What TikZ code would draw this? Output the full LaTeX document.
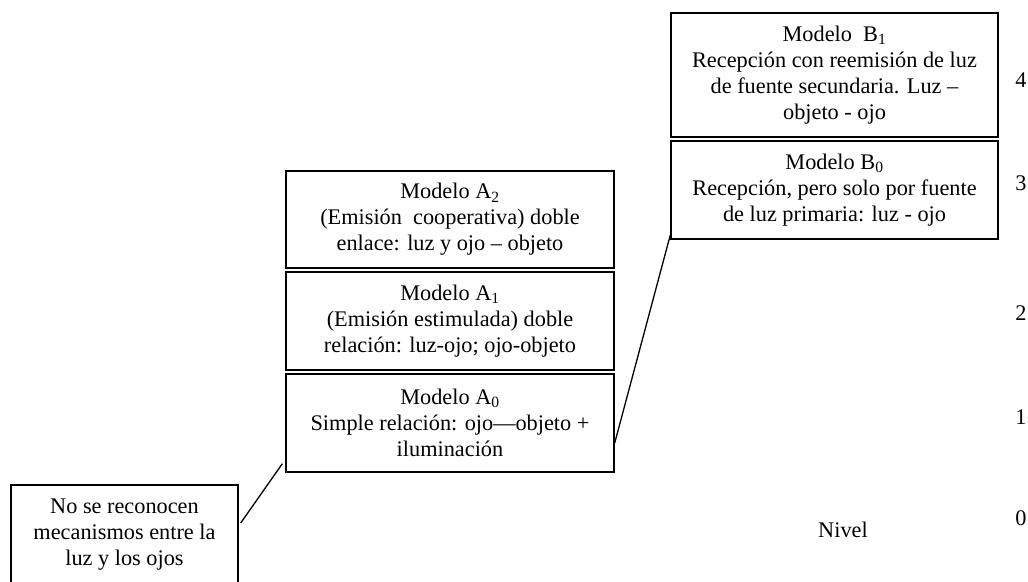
\documentclass[tikz,border=0pt]{standalone}
\usepackage{fontspec}
\setmainfont{Liberation Serif}
\begin{document}
\begin{tikzpicture}[x=1pt,y=-1pt,
  box/.style={draw, line width=1.4pt, align=center, inner sep=0pt, font=\fontsize{22.3}{26}\selectfont},
  lvl/.style={font=\fontsize{22.3}{26}\selectfont, inner sep=0pt},
  conn/.style={line width=1.3pt}]
\useasboundingbox (0,0) rectangle (1028,581);
\clip (0,0) rectangle (1028,581);
\node[box, minimum width=227pt, minimum height=100pt] (N) at (124.5,535)
  {No se reconocen\\mecanismos entre la\\luz y los ojos};
\node[box, minimum width=328pt, minimum height=98pt] (A0) at (450,423)
  {Modelo A\textsubscript{0}\\Simple relación: ojo—objeto +\\iluminación};
\node[box, minimum width=328pt, minimum height=98pt] (A1) at (450,321)
  {Modelo A\textsubscript{1}\\(Emisión estimulada) doble\\relación: luz-ojo; ojo-objeto};
\node[box, minimum width=328pt, minimum height=97pt] (A2) at (450,219.5)
  {Modelo A\textsubscript{2}\\(Emisión\ \ cooperativa) doble\\enlace: luz y ojo – objeto};
\node[box, minimum width=327pt, minimum height=98pt] (B0) at (834.5,190)
  {Modelo B\textsubscript{0}\\Recepción, pero solo por fuente\\de luz primaria: luz - ojo};
\node[box, minimum width=327pt, minimum height=124pt] (B1) at (834.5,75)
  {Modelo\ \ B\textsubscript{1}\\Recepción con reemisión de luz\\de fuente secundaria. Luz –\\objeto - ojo};
\node[lvl] (l4) at (1021,80) {4};
\node[lvl] (l3) at (1021,183) {3};
\node[lvl] (l2) at (1021,313) {2};
\node[lvl] (l1) at (1021,417) {1};
\node[lvl] (l0) at (1021,518) {0};
\node[lvl] (niv) at (843,530) {Nivel};
\draw[conn] ([xshift=2pt,yshift=12pt]N.east) -- ([xshift=-3pt,yshift=9pt]A0.south west);
\draw[conn] ([yshift=-20pt]A0.east) -- ([yshift=-45pt]B0.west);
\end{tikzpicture}
\end{document}
